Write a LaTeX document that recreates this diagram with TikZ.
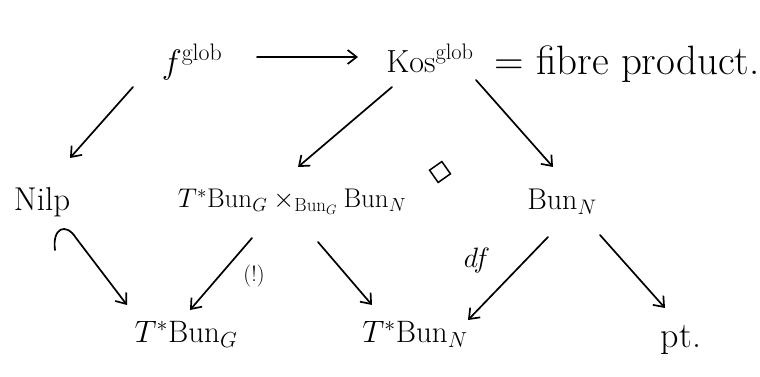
\RequirePackage{fix-cm}
\documentclass[tikz,border=0pt]{standalone}
\usetikzlibrary{arrows.meta,shapes.geometric}
\begin{document}
\begin{tikzpicture}[x=1pt,y=-1pt,
  lbl/.style={font=\fontsize{27}{32}\selectfont, inner sep=0pt},
  big/.style={font=\fontsize{31}{37}\selectfont, inner sep=0pt},
  small/.style={font=\fontsize{22}{26}\selectfont, inner sep=0pt},
  arr/.style={line width=1.7pt, -{Straight Barb[length=9pt,width=14pt,line width=1.7pt]}, line cap=round},
  sq/.style={draw, line width=1.5pt, shape=rectangle, minimum size=15pt, rotate=35, inner sep=0pt}]
\useasboundingbox (0,0) rectangle (760,377);
% nodes
\node[font=\fontsize{34}{40}\selectfont, inner sep=0pt] (f) at (192,62) {$f^{\mathrm{glob}}$};
\node[font=\fontsize{32}{38}\selectfont, inner sep=0pt] (kos) at (430,58) {$\mathrm{Kos}^{\mathrm{glob}}$};
\node[font=\fontsize{41}{48}\selectfont, inner sep=0pt, anchor=west] (fib) at (494,64) {$=$ fibre product.};
\node[font=\fontsize{33}{40}\selectfont, inner sep=0pt] (nilp) at (42,202) {Nilp};
\node[lbl] (fp) at (292,202) {$T^{*}\mathrm{Bun}_G\times_{\mathrm{Bun}_G}\mathrm{Bun}_N$};
\node[font=\fontsize{30}{36}\selectfont, inner sep=0pt] (bn) at (562,202) {$\mathrm{Bun}_N$};
\node[big] (tbg) at (186,334) {$T^{*}\mathrm{Bun}_G$};
\node[big] (tbn) at (415,334) {$T^{*}\mathrm{Bun}_N$};
\node[font=\fontsize{36}{42}\selectfont, inner sep=0pt] (pt) at (681,340) {pt.};
\node[sq] (box) at (440,172) {};
\node[small] (bang) at (254,276) {(!)};
\node[font=\fontsize{28}{34}\selectfont, inner sep=0pt] (df) at (477,260) {$df$};
\coordinate (hk) at (55,250);
% connectors
\draw[arr] ([shift={(65,-5)}]f.center) -- ([shift={(-72,-1)}]kos.center);
\draw[arr] ([shift={(-59,25)}]f.center) -- ([shift={(28,-44)}]nilp.center);
\draw[arr] ([shift={(-38,29)}]kos.center) -- ([shift={(6,-35)}]fp.center);
\draw[arr] ([shift={(46,22)}]kos.center) -- ([shift={(-9,-35)}]bn.center);
\draw[arr] ([shift={(-40,36)}]fp.center) -- ([shift={(4,-24)}]tbg.center);
\draw[arr] ([shift={(26,40)}]fp.center) -- ([shift={(-43,-29)}]tbn.center);
\draw[arr] ([shift={(-14,35)}]bn.center) -- ([shift={(53,-14)}]tbn.center);
\draw[arr] ([shift={(38,33)}]bn.center) -- ([shift={(-16,-32)}]pt.center);
\draw[arr] (hk) .. controls (52,228) and (66,222) .. (76,238) -- ([shift={(-59,-29)}]tbg.center);
\end{tikzpicture}
\end{document}
